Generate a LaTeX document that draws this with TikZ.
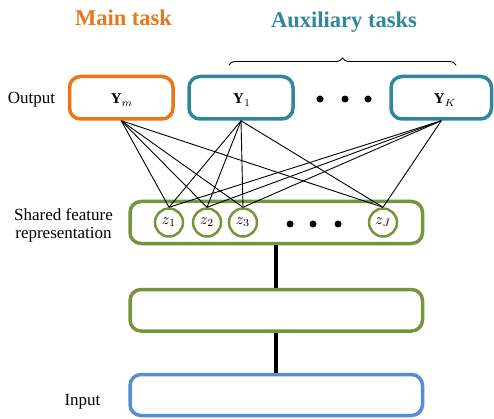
\documentclass[tikz,border=0pt]{standalone}
\usepackage{graphicx}
\usepackage{fontspec}
\setmainfont{Liberation Serif}
\usetikzlibrary{decorations.pathreplacing}
\definecolor{morange}{HTML}{EB7517}
\definecolor{mteal}{HTML}{31859C}
\definecolor{mgreen}{HTML}{77933C}
\definecolor{mblue}{HTML}{558ED5}
\newcommand{\ybigmath}[1]{\scalebox{1.5}{$#1$}}
\newcommand{\zbigmath}[1]{\scalebox{1.55}{$#1$}}
\begin{document}
\begin{tikzpicture}[x=1pt,y=-1pt,
  box/.style={draw, rounded corners=11pt, line width=3.5pt, inner sep=0pt},
  feat/.style={draw=mgreen, circle, line width=2.5pt, minimum size=28pt, inner sep=0pt},
  lbl/.style={font=\fontsize{17}{17.5}\selectfont, align=center, inner sep=0pt},
  ymath/.style={inner sep=0pt},
  ttl/.style={font=\fontsize{22.5}{22.5}\selectfont\bfseries, inner sep=0pt},
  conn/.style={line width=0.9pt},
  trunk/.style={line width=4.2pt},
  bigdot/.style={circle, fill, inner sep=0pt, minimum size=7pt}
]
\useasboundingbox (0,0) rectangle (494,419);

% titles
\node[ttl, text=morange, anchor=base] (tmain) at (123.5,26) {Main task};
\node[ttl, text=mteal, anchor=base] (taux) at (344,27.5) {Auxiliary tasks};

% brace
\coordinate (brL) at (229,65);
\coordinate (brR) at (456,65);
\draw[decorate, decoration={brace, amplitude=7pt}, line width=0.9pt] (brL) -- (brR);

% output boxes
\node[box, draw=morange, minimum width=103.5pt, minimum height=42.5pt] (ym) at (121.25,97.75) {};
\node[box, draw=mteal, minimum width=104pt, minimum height=42.5pt] (y1) at (241,97.75) {};
\node[box, draw=mteal, minimum width=100.5pt, minimum height=42.5pt] (yk) at (441.25,97.75) {};
\node[ymath, anchor=base] (ymt) at (122,104) {\ybigmath{\mathbf{Y}_m}};
\node[ymath, anchor=base] (y1t) at (242,104) {\ybigmath{\mathbf{Y}_1}};
\node[ymath, anchor=base] (ykt) at (445,104) {\ybigmath{\mathbf{Y}_K}};
\node[bigdot] (od1) at (320,99) {};
\node[bigdot] (od2) at (345,99) {};
\node[bigdot] (od3) at (368,99) {};

% shared feature box
\node[box, draw=mgreen, minimum width=292.5pt, minimum height=42pt] (shared) at (276.25,222.5) {};
\node[feat] (z1) at (169,222.5) {\zbigmath{z_1}};
\node[feat] (z2) at (207,222.5) {\zbigmath{z_2}};
\node[feat] (z3) at (243,222.5) {\zbigmath{z_3}};
\node[feat] (zj) at (383,222.5) {\zbigmath{z_J}};
\node[bigdot] (sd1) at (290,224) {};
\node[bigdot] (sd2) at (313,224) {};
\node[bigdot] (sd3) at (338,224) {};

% hidden and input boxes
\node[box, draw=mgreen, minimum width=292.5pt, minimum height=41.5pt] (hidden) at (276.25,310.25) {};
\node[box, draw=mblue, minimum width=292.5pt, minimum height=41pt] (input) at (276.25,395) {};

% side labels
\node[lbl, anchor=base] (lout) at (31.5,104) {Output};
\node[lbl, anchor=base] (lshared) at (63.5,238) {Shared feature\\representation};
\node[lbl, anchor=base] (lin) at (82.5,405.5) {Input};

% connectors
\foreach \s in {ym,y1,yk}{
  \foreach \t in {z1,z2,z3,zj}{
    \draw[conn] (\s.south) -- (\t.north);
  }
}
\draw[trunk] (shared.south) -- (hidden.north);
\draw[trunk] (hidden.south) -- (input.north);
\end{tikzpicture}
\end{document}
